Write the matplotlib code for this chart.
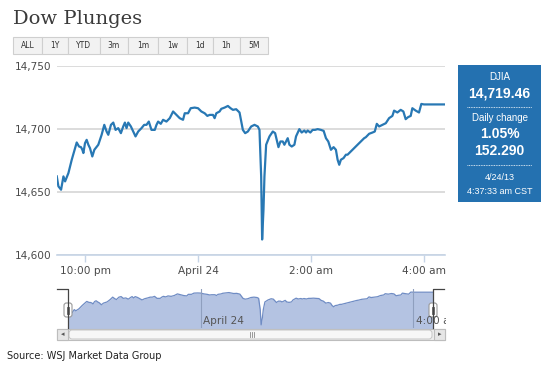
import matplotlib
matplotlib.use("Agg")
import matplotlib.pyplot as plt
from matplotlib.patches import Rectangle, FancyBboxPatch

# ---- data (hours relative to midnight April 24) ----
hours = [-2.500, -2.471, -2.424, -2.382, -2.353, -2.294, -2.235, -2.176, -2.147, -2.106,
         -2.071, -2.047, -2.029, -2.000, -1.971, -1.941, -1.912, -1.871, -1.835, -1.765,
         -1.706, -1.659, -1.618, -1.588, -1.541, -1.500, -1.459, -1.412, -1.365, -1.324,
         -1.294, -1.265, -1.235, -1.188, -1.147, -1.106, -1.059, -1.000, -0.953, -0.912,
         -0.871, -0.824, -0.765, -0.735, -0.706, -0.659, -0.618, -0.559, -0.500, -0.441,
         -0.382, -0.324, -0.265, -0.235, -0.176, -0.129, -0.059, 0.000, 0.059, 0.118,
         0.165, 0.206, 0.265, 0.294, 0.324, 0.382, 0.412, 0.471, 0.529, 0.576,
         0.618, 0.676, 0.735, 0.765, 0.794, 0.835, 0.882, 0.941, 1.000, 1.059,
         1.088, 1.118, 1.135, 1.159, 1.176, 1.206, 1.265, 1.324, 1.365, 1.400,
         1.424, 1.459, 1.500, 1.529, 1.559, 1.588, 1.618, 1.659, 1.706, 1.735,
         1.794, 1.835, 1.882, 1.912, 1.941, 1.988, 2.029, 2.071, 2.118, 2.176,
         2.224, 2.265, 2.306, 2.353, 2.400, 2.441, 2.471, 2.500, 2.529, 2.576,
         2.618, 2.647, 2.706, 2.765, 2.824, 2.882, 2.941, 2.971, 3.029, 3.088,
         3.129, 3.165, 3.206, 3.265, 3.324, 3.382, 3.441, 3.471, 3.529, 3.588,
         3.635, 3.676, 3.718, 3.765, 3.794, 3.853, 3.912, 3.953, 4.000, 4.370]
djia = [14662.4, 14654.5, 14651.8, 14662.4, 14658.4, 14665.0, 14675.6, 14684.8, 14689.3, 14686.1,
        14685.6, 14683.5, 14680.9, 14688.8, 14691.4, 14687.5, 14684.8, 14678.2, 14683.5, 14687.5,
        14695.4, 14703.3, 14698.0, 14695.4, 14703.3, 14705.1, 14699.3, 14700.7, 14696.7, 14702.0,
        14705.1, 14700.7, 14705.1, 14702.0, 14698.0, 14694.1, 14698.0, 14700.7, 14703.3, 14703.3,
        14705.9, 14699.3, 14699.3, 14703.3, 14705.9, 14704.1, 14707.3, 14705.9, 14708.6, 14713.9,
        14711.2, 14708.6, 14707.3, 14712.5, 14712.5, 14716.5, 14717.0, 14716.5, 14713.9, 14712.5,
        14710.4, 14711.2, 14711.2, 14708.6, 14712.5, 14713.9, 14716.0, 14717.0, 14718.3, 14716.5,
        14715.2, 14715.7, 14713.1, 14705.9, 14699.3, 14696.7, 14698.0, 14702.0, 14703.3, 14702.0,
        14699.3, 14662.4, 14612.3, 14636.0, 14662.4, 14687.5, 14694.1, 14698.0, 14696.7, 14690.1,
        14685.6, 14690.1, 14690.1, 14687.5, 14690.1, 14692.7, 14687.5, 14686.1, 14687.5, 14694.1,
        14699.9, 14697.2, 14698.8, 14697.2, 14698.8, 14697.2, 14699.3, 14699.3, 14699.9, 14699.3,
        14698.5, 14692.7, 14690.1, 14683.5, 14685.6, 14683.5, 14675.6, 14671.6, 14675.6, 14676.9,
        14679.6, 14679.6, 14682.2, 14684.8, 14687.5, 14690.1, 14692.7, 14693.5, 14696.2, 14697.2,
        14698.0, 14704.1, 14702.0, 14703.3, 14704.6, 14708.6, 14710.4, 14714.6, 14713.1, 14715.2,
        14713.9, 14707.8, 14709.4, 14710.4, 14716.5, 14714.6, 14713.1, 14719.9, 14719.5, 14719.5]

yticks = [14600, 14650, 14700, 14750]
ytick_labels = ["14,600", "14,650", "14,700", "14,750"]
xticks = [-2, 0, 2, 4]
xtick_labels = ["10:00 pm", "April 24", "2:00 am", "4:00 am"]
buttons = ["ALL", "1Y", "YTD", "3m", "1m", "1w", "1d", "1h", "5M"]
info_lines = ["DJIA", "14,719.46", "Daily change", "1.05%", "152.290", "4/24/13", "4:37:33 am CST"]

W, H = 550, 373
fig = plt.figure(figsize=(W / 100, H / 100), dpi=100)
fig.patch.set_facecolor("white")

def fbox(x0, y0, x1, y1):
    return [x0 / W, 1 - y1 / H, (x1 - x0) / W, (y1 - y0) / H]

LINE = "#2878b4"
GRID = "#d9d9d9"
TXT = "#4a4a4a"

# ---- main chart ----
ax = fig.add_axes(fbox(57, 66, 445, 255))
ax.plot(hours, djia, color=LINE, lw=1.6, solid_joinstyle="round", zorder=3)
ax.set_xlim(-2.496, 4.372)
ax.set_ylim(14600, 14750)
ax.set_yticks(yticks)
ax.set_yticklabels(ytick_labels)
ax.set_xticks(xticks)
ax.set_xticklabels(xtick_labels)
for s in ["top", "right", "left"]:
    ax.spines[s].set_visible(False)
ax.spines["bottom"].set_color("#c6d4e6")
ax.spines["bottom"].set_linewidth(1.2)
ax.spines["bottom"].set_zorder(4)
ax.grid(axis="y", color=GRID, lw=1.3, zorder=1)
ax.tick_params(axis="y", length=0, pad=4, labelsize=7.6, labelcolor=TXT)
ax.tick_params(axis="x", length=5, color="#c6d4e6", width=1, pad=3, labelsize=7.6, labelcolor=TXT)
for t in ax.get_yticklabels() + ax.get_xticklabels():
    t.set_fontfamily("DejaVu Sans")

# ---- navigator ----
nav = fig.add_axes(fbox(68, 289, 433, 328))
nav.fill_between(hours, djia, 14500, color="#b4c3e2", lw=0)
nav.plot(hours, djia, color="#6f8cc4", lw=0.9)
nav.set_xlim(-2.5, 4.37)
nav.set_ylim(14602, 14730)
for xv in [0, 4]:
    nav.axvline(xv, color="#8f9fbe", lw=0.8, zorder=2)
nav.axis("off")

# ---- overlay in pixel coordinates ----
ov = fig.add_axes([0, 0, 1, 1], zorder=10)
ov.set_xlim(0, W)
ov.set_ylim(H, 0)
ov.axis("off")
ov.patch.set_alpha(0)

# title
ov.text(13, 19, "Dow Plunges", fontsize=14, family="DejaVu Serif", color="#3a3a3a",
        va="center", ha="left")

# range buttons
bx = [13, 42, 68, 100, 128, 158, 187, 213, 240, 268]
for i, lab in enumerate(buttons):
    ov.add_patch(Rectangle((bx[i], 37), bx[i + 1] - bx[i], 17, facecolor="#f2f2f2",
                           edgecolor="#cfcfcf", lw=0.8))
    ov.text((bx[i] + bx[i + 1]) / 2, 45.5, lab, fontsize=5.5, color="#333333",
            ha="center", va="center", family="DejaVu Sans")

# info box
ov.add_patch(Rectangle((458, 65), 83, 137, facecolor="#2471b0", edgecolor="none"))
cx = 499.5
specs = [(77, 7, "normal"), (93, 10, "bold"), (118, 7, "normal"), (134, 10, "bold"),
         (151, 10, "bold"), (178, 6.5, "normal"), (191, 6.5, "normal")]
for (yy, fs, wt), s in zip(specs, info_lines):
    ov.text(cx, yy, s, fontsize=fs, fontweight=wt, color="white", ha="center",
            va="center", family="Liberation Sans")
for yy in [107, 165]:
    ov.plot([467, 532], [yy, yy], color="white", lw=0.6, ls=(0, (1, 1)))

# navigator labels
ov.text(203, 321, "April 24", fontsize=7.6, color="#555555", ha="left", va="center",
        family="DejaVu Sans")
t4 = ov.text(416, 321, "4:00 am", fontsize=7.6, color="#555555", ha="left", va="center",
             family="DejaVu Sans", clip_on=True)
clip = Rectangle((400, 300), 46, 40, transform=ov.transData)
t4.set_clip_path(clip)

# navigator brackets and handles
ov.plot([57, 68, 68], [289, 289, 328], color="#444444", lw=0.9)
ov.plot([444, 433, 433], [289, 289, 328], color="#444444", lw=0.9)
for hx in [68, 433]:
    ov.add_patch(FancyBboxPatch((hx - 4, 303), 8, 14, boxstyle="round,pad=0,rounding_size=2.5",
                                facecolor="white", edgecolor="#999999", lw=0.8))
    ov.plot([hx - 1.2, hx - 1.2], [306.5, 313.5], color="#555555", lw=0.6)
    ov.plot([hx + 1.2, hx + 1.2], [306.5, 313.5], color="#555555", lw=0.6)

# scrollbar
ov.add_patch(Rectangle((57, 329), 388, 11, facecolor="#eeeeee", edgecolor="#bdbdbd", lw=0.8))
ov.add_patch(FancyBboxPatch((69, 330), 363, 9, boxstyle="round,pad=0,rounding_size=3",
                            facecolor="#f7f7f7", edgecolor="#c4c4c4", lw=0.7))
ov.add_patch(Rectangle((57, 329), 11, 11, facecolor="#e6e6e6", edgecolor="#bdbdbd", lw=0.8))
ov.add_patch(Rectangle((434, 329), 11, 11, facecolor="#e6e6e6", edgecolor="#bdbdbd", lw=0.8))
ov.text(62.5, 334.5, "\u25C2", fontsize=5, color="#555555", ha="center", va="center")
ov.text(439.5, 334.5, "\u25B8", fontsize=5, color="#555555", ha="center", va="center")
for dx in [-2, 0, 2]:
    ov.plot([252 + dx, 252 + dx], [332, 337], color="#888888", lw=0.6)

# source
ov.text(7, 356, "Source: WSJ Market Data Group", fontsize=7, color="#222222",
        ha="left", va="center", family="DejaVu Sans")

fig.savefig("out.png", dpi=100)
